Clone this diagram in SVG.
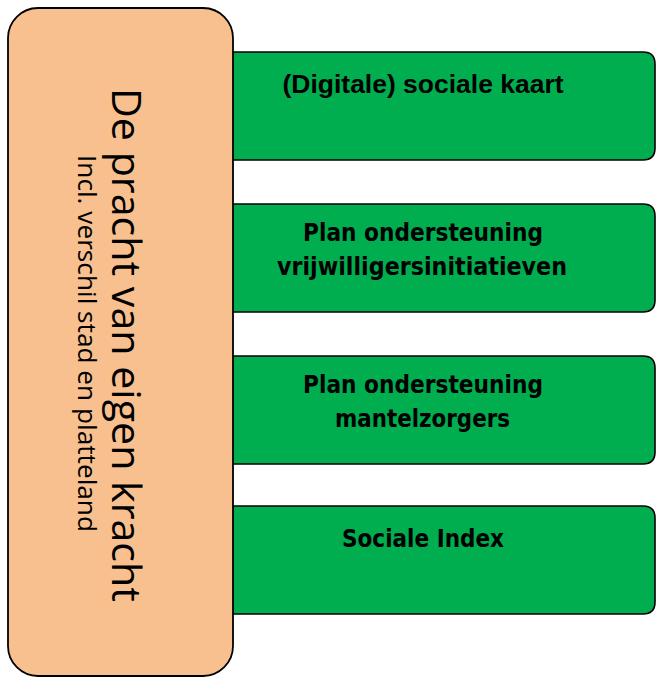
<svg xmlns="http://www.w3.org/2000/svg" width="656" height="678" viewBox="0 0 656 678">
<style>
.item{fill:#00AE50;stroke:#000;stroke-width:1.6}
.main{fill:#F9C08F;stroke:#000;stroke-width:1.8}
.lbl{font-family:"DejaVu Sans","Liberation Sans",sans-serif;font-weight:bold;font-size:24px;fill:#000}
.lbl2{font-family:"Liberation Sans",Arial,sans-serif;font-weight:bold;font-size:26px;fill:#000}
.title{font-family:"Open Sans","Noto Sans",sans-serif;fill:#000}
</style>
<rect width="656" height="678" fill="#fff"/>
<g id="item1">
<path class="item" d="M232 52 H643 Q655 52 655 64 V148 Q655 160 643 160 H232 Z"/>
<text class="lbl2" x="423" y="93" text-anchor="middle" textLength="281" lengthAdjust="spacingAndGlyphs">(Digitale) sociale kaart</text>
</g>
<g id="item2">
<path class="item" d="M232 204 H643 Q655 204 655 216 V300 Q655 312 643 312 H232 Z"/>
<text class="lbl" x="423" y="241" text-anchor="middle" textLength="240" lengthAdjust="spacingAndGlyphs">Plan ondersteuning</text>
<text class="lbl" x="422" y="275" text-anchor="middle" textLength="290" lengthAdjust="spacingAndGlyphs">vrijwilligersinitiatieven</text>
</g>
<g id="item3">
<path class="item" d="M232 356 H643 Q655 356 655 368 V452 Q655 464 643 464 H232 Z"/>
<text class="lbl" x="423" y="393" text-anchor="middle" textLength="240" lengthAdjust="spacingAndGlyphs">Plan ondersteuning</text>
<text class="lbl" x="422.5" y="427" text-anchor="middle" textLength="175" lengthAdjust="spacingAndGlyphs">mantelzorgers</text>
</g>
<g id="item4">
<path class="item" d="M232 506 H643 Q655 506 655 518 V602 Q655 614 643 614 H232 Z"/>
<text class="lbl" x="423" y="547" text-anchor="middle" textLength="162" lengthAdjust="spacingAndGlyphs">Sociale Index</text>
</g>
<g id="main">
<rect class="main" x="8" y="8" width="225" height="668" rx="30" ry="30"/>
<text class="title" transform="translate(112,345) rotate(90)" text-anchor="middle" font-size="41" textLength="514" lengthAdjust="spacingAndGlyphs">De pracht van eigen kracht</text>
<text class="title" transform="translate(78,343.5) rotate(90)" text-anchor="middle" font-size="26" textLength="377" lengthAdjust="spacingAndGlyphs">Incl. verschil stad en platteland</text>
</g>
<g id="connectors"/>
</svg>
